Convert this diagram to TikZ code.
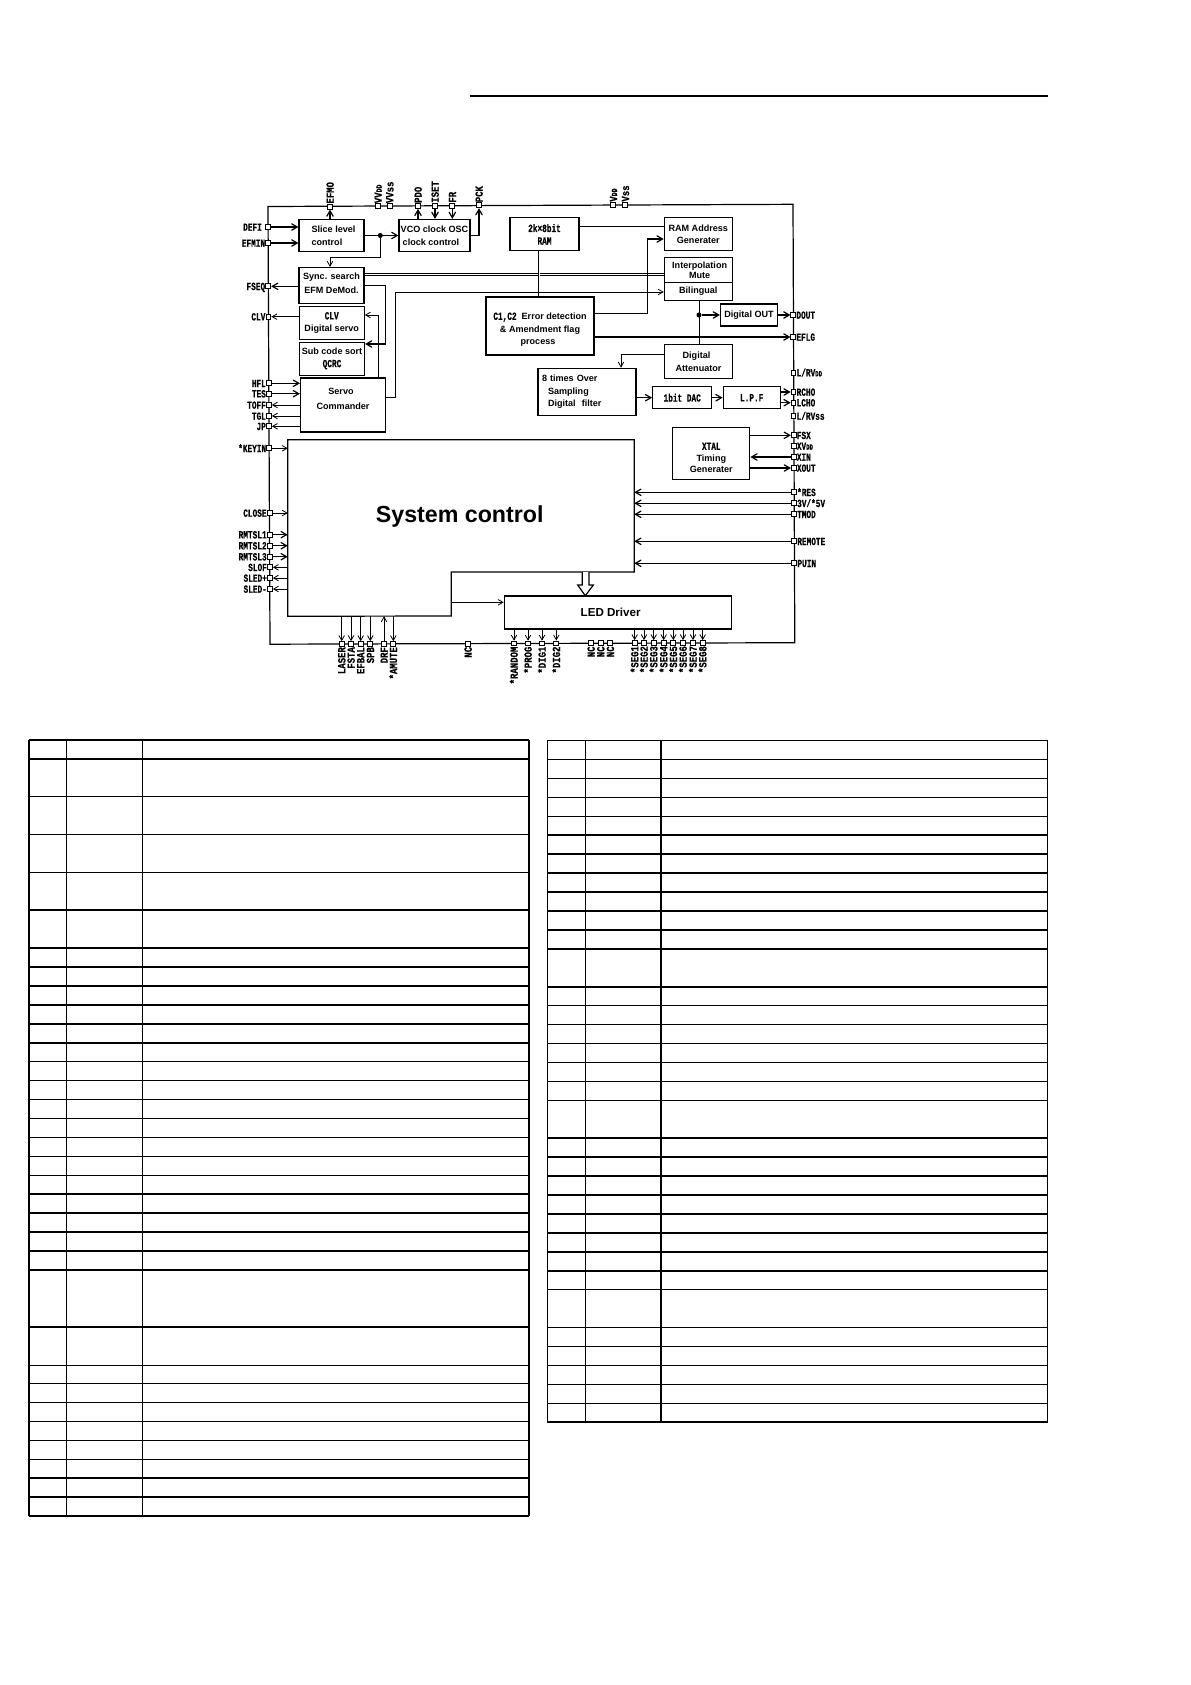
\documentclass[tikz,border=0pt]{standalone}
\usepackage{fontspec}
\setmainfont{Liberation Sans}
\newfontfamily\pinfont[FakeStretch=0.71,FakeBold=0.4]{Liberation Mono}
\newfontfamily\pinfontlong[FakeStretch=0.82,FakeBold=0.4]{Liberation Mono}
\usetikzlibrary{arrows}
\newcommand{\pinface}{\pinfont\bfseries\fontsize{8.2}{9.4}\selectfont}
\newcommand{\pinfacelong}{\pinfontlong\bfseries\fontsize{8.2}{9.4}\selectfont}
\newcommand{\subsize}[1]{{\fontsize{6}{7}\selectfont #1}}
\tikzset{
	blockbox/.style 2 args={draw,line width=0.9pt,inner sep=0pt,align=center,minimum width={#1*0.75pt},minimum height={#2*0.75pt},font=\bfseries\fontsize{6.8}{9.4}\selectfont},
	pinsq/.style={draw,fill=white,line width=0.7pt,inner sep=0pt,minimum size=3.6pt,label distance=2.5pt},
	pintext/.style={inner sep=0pt,text height=5.6pt,text depth=0pt,font=\pinface},
	pinleft/.style={pintext},
	pinright/.style={pintext},
	pintop/.style={pintext,font=\pinfacelong,rotate=90,anchor=west},
	pinbottom/.style={pintext,font=\pinfacelong,rotate=90,anchor=east},
	junction/.style={circle,fill,inner sep=0pt,minimum size=3.8pt},
	sig/.style={line width=0.9pt,->,>=angle 60},
	sigthin/.style={line width=0.6pt,->,>=angle 60},
	plain/.style={line width=0.9pt},
	dbl/.style={double,double distance=0.5pt,line width=0.7pt},
	rowthin/.style={line width=0.75pt},
	rowthick/.style={line width=1.5pt}
}
\begin{document}
\begin{tikzpicture}[x=0.75pt,y=-0.75pt]
	\useasboundingbox (0,0) rectangle (1191,1685);
	\draw [line width=1.5pt] (469.6,95.6) -- (1047.6,95.6);

	\coordinate (busnw) at (268,206.5);
	\coordinate (busne) at (793,204.3);
	\coordinate (busse) at (794.8,642.7);
	\coordinate (bussw) at (270,644.2);
	\draw [plain] (busnw) -- (busne) -- (busse) -- (bussw) -- cycle;

	\node [blockbox={65}{32},align=left] (slice) at (331.5,235.5) {\hspace*{3pt}Slice level\\\hspace*{3pt}control};
	\node [blockbox={71}{32},align=left] (vco) at (434.5,235.5) {VCO clock OSC\\\hspace*{1.5pt}clock control};
	\node [blockbox={69}{33}] (ram) at (544.5,234.3) {{\pinface 2k×8bit}\\{\pinface RAM}};
	\node [blockbox={68}{33}] (ramaddr) at (698.3,234.3) {RAM Address\\Generater};
	\node [blockbox={68}{25}] (interp) at (698.3,270) {\hspace*{2pt}Interpolation\\[-1.6pt]\hspace*{2pt}Mute};
	\node [blockbox={68}{18}] (bilingual) at (698.3,291.3) {Bilingual};
	\node [blockbox={65}{36}] (sync) at (331.5,285.5) {Sync. search\\[1.3pt]EFM DeMod.\\[-6pt]\mbox{}};
	\node [blockbox={65}{33}] (clv) at (331.7,323) {{\pinface CLV}\\Digital servo};
	\node [blockbox={65}{33}] (subcode) at (332,358.7) {Sub code sort\\{\pinface QCRC}};
	\node [blockbox={85}{54}] (servo) at (343,405) {Servo\hspace*{3pt}\\[2.4pt]Commander\hspace*{3pt}\\\mbox{}};
	\node [blockbox={108}{58}] (ecc) at (540,326) {\mbox{}\\[1.6pt]{\pinface C1,C2}\ \ Error detection\hspace*{3pt}\\\& Amendment flag\hspace*{6pt}\\process\hspace*{3pt}};
	\node [blockbox={98}{47},text width=67.5pt,align=left] (oversamp) at (587,391.7) {8 times Over\\\hspace*{4.5pt}Sampling\\\hspace*{4.5pt}Digital\ \ filter};
	\node [blockbox={57}{22}] (digout) at (749,315) {Digital OUT};
	\node [blockbox={68}{34}] (atten) at (698.5,361.8) {Digital\hspace*{3pt}\\[1pt]Attenuator};
	\node [blockbox={59}{22}] (dac) at (682.2,397.7) {{\pinface 1bit DAC}};
	\node [blockbox={57}{22}] (lpf) at (751.7,397.7) {{\pinface L.P.F}};
	\node [blockbox={77}{52}] (xtal) at (711.3,453.3) {\mbox{}\\[2.8pt]{\pinface XTAL}\hspace*{8pt}\\[-0.8pt]Timing\\[-0.8pt]Generater};
	\node [blockbox={227.4}{33}] (led) at (618,612.5) {\fontsize{8.7}{10}\selectfont LED Driver\hspace*{11pt}};
	\node [minimum width=259.5pt,minimum height=132pt,inner sep=0pt] (sysbox) at (461,528) {};
	\node [inner sep=0pt,font=\bfseries\fontsize{17.4}{20}\selectfont] (systext) at (459.7,516) {System control};
	\draw [plain] (sysbox.north west) -- (sysbox.north east) -- (sysbox.east |- 0,572) -- (451.3,572) -- (451.3,616) -- (sysbox.south west) -- cycle;

	\node [pinsq,label={[pinleft]left:DEFI\hspace*{2.5pt}}] (defi) at (268.3,227) {};
	\node [pinsq,label={[pinleft]left:EFMIN}] (efmin) at (268.3,243) {};
	\node [pinsq,label={[pinleft]left:FSEQ}] (fseq) at (268.3,286.3) {};
	\node [pinsq,label={[pinleft]left:CLV}] (clvpin) at (268.5,316.7) {};
	\node [pinsq,label={[pinleft]left:HFL}] (hfl) at (269,383.3) {};
	\node [pinsq,label={[pinleft]left:TES}] (tes) at (269,393.7) {};
	\node [pinsq,label={[pinleft]left:TOFF}] (toff) at (269,405) {};
	\node [pinsq,label={[pinleft]left:TGL}] (tgl) at (269,416) {};
	\node [pinsq,label={[pinleft]left:JP}] (jp) at (269,426.3) {};
	\node [pinsq,label={[pinleft]left:*KEYIN}] (keyin) at (269.3,448.3) {};
	\node [pinsq,label={[pinleft]left:CLOSE}] (closepin) at (269.7,513) {};
	\node [pinsq,label={[pinleft]left:RMTSL1}] (rmtsla) at (269.8,534.7) {};
	\node [pinsq,label={[pinleft]left:RMTSL2}] (rmtslb) at (269.8,545.7) {};
	\node [pinsq,label={[pinleft]left:RMTSL3}] (rmtslc) at (269.8,556.7) {};
	\node [pinsq,label={[pinleft]left:SLOF}] (slof) at (270,567.3) {};
	\node [pinsq,label={[pinleft]left:SLED+}] (sledp) at (270,578) {};
	\node [pinsq,label={[pinleft]left:SLED-}] (sledm) at (270,589) {};

	\node [pinsq,label={[pintop]above:EFMO}] (efmo) at (330,206.7) {};
	\node [pinsq,label={[pintop]above:VV\subsize{DD}}] (vvdd) at (378,206.3) {};
	\node [pinsq,label={[pintop]above:VVss}] (vvss) at (389.7,206.2) {};
	\node [pinsq,label={[pintop]above:PDO}] (pdo) at (418,206) {};
	\node [pinsq,label={[pintop]above:ISET}] (iset) at (435,205.8) {};
	\node [pinsq,label={[pintop]above:FR}] (frpin) at (452.3,205.7) {};
	\node [pinsq,label={[pintop]above:PCK}] (pck) at (479,205.3) {};
	\node [pinsq,label={[pintop]above:V\subsize{DD}}] (vdd) at (613.3,204.8) {};
	\node [pinsq,label={[pintop]above:Vss}] (vss) at (625.3,204.7) {};

	\node [pinsq,label={[pinright]right:DOUT}] (dout) at (793.3,315) {};
	\node [pinsq,label={[pinright]right:EFLG}] (eflg) at (793.3,337) {};
	\node [pinsq,label={[pinright]right:L/RV\subsize{DD}}] (lrvdd) at (793.5,372.7) {};
	\node [pinsq,label={[pinright]right:RCHO}] (rcho) at (793.5,392) {};
	\node [pinsq,label={[pinright]right:LCHO}] (lcho) at (793.5,402.7) {};
	\node [pinsq,label={[pinright]right:L/RVss}] (lrvss) at (793.5,416) {};
	\node [pinsq,label={[pinright]right:FSX}] (fsx) at (793.7,435.3) {};
	\node [pinsq,label={[pinright]right:XV\subsize{DD}}] (xvdd) at (793.7,446) {};
	\node [pinsq,label={[pinright]right:XIN}] (xin) at (793.7,457) {};
	\node [pinsq,label={[pinright]right:XOUT}] (xout) at (793.8,468) {};
	\node [pinsq,label={[pinright]right:*RES}] (respin) at (794,492.3) {};
	\node [pinsq,label={[pinright]right:3V/*5V}] (volt) at (794,503.3) {};
	\node [pinsq,label={[pinright]right:TMOD}] (tmod) at (794,514.3) {};
	\node [pinsq,label={[pinright]right:REMOTE}] (remote) at (794.2,541.3) {};
	\node [pinsq,label={[pinright]right:PUIN}] (puin) at (794.3,563.3) {};

	\node [pinsq,label={[pinbottom]below:LASER}] (laser) at (341.7,644) {};
	\node [pinsq,label={[pinbottom]below:FSTA}] (fsta) at (351,644) {};
	\node [pinsq,label={[pinbottom]below:EFBAL}] (efbal) at (360.7,644) {};
	\node [pinsq,label={[pinbottom]below:SPB}] (spb) at (370.3,644) {};
	\node [pinsq,label={[pinbottom]below:DRF}] (drf) at (384,644) {};
	\node [pinsq,label={[pinbottom]below:*AMUTE}] (amute) at (393.3,644) {};
	\node [pinsq,label={[pinbottom]below:NC}] (nca) at (468,643.7) {};
	\node [pinsq,label={[pinbottom]below:*RANDOM}] (randompin) at (514,643.5) {};
	\node [pinsq,label={[pinbottom]below:*PROG}] (prog) at (528,643.5) {};
	\node [pinsq,label={[pinbottom]below:*DIG1}] (diga) at (542,643.5) {};
	\node [pinsq,label={[pinbottom]below:*DIG2}] (digb) at (556.3,643.4) {};
	\node [pinsq,label={[pinbottom]below:NC}] (ncb) at (591,643.3) {};
	\node [pinsq,label={[pinbottom]below:NC}] (ncc) at (600.7,643.3) {};
	\node [pinsq,label={[pinbottom]below:NC}] (ncd) at (610.3,643.2) {};
	\node [pinsq,label={[pinbottom]below:*SEG1}] (sega) at (634.7,643) {};
	\node [pinsq,label={[pinbottom]below:*SEG2}] (segb) at (644,643) {};
	\node [pinsq,label={[pinbottom]below:*SEG3}] (segc) at (653.7,643) {};
	\node [pinsq,label={[pinbottom]below:*SEG4}] (segd) at (663.7,643) {};
	\node [pinsq,label={[pinbottom]below:*SEG5}] (sege) at (673.3,643) {};
	\node [pinsq,label={[pinbottom]below:*SEG6}] (segf) at (683,643) {};
	\node [pinsq,label={[pinbottom]below:*SEG7}] (segg) at (693,643) {};
	\node [pinsq,label={[pinbottom]below:*SEG8}] (segh) at (702.7,643) {};

	\node [junction] (slicedot) at (380.3,235.5) {};
	\node [junction] (bildot) at (699,315) {};
	\coordinate (syncin) at (330,257.3);
	\coordinate (syncturn) at (385.7,344);
	\coordinate (servoup) at (378.3,315);
	\coordinate (servoright) at (395,292);
	\coordinate (eccup) at (647.7,239);
	\coordinate (attdown) at (621,354.3);
	\coordinate (sysnotch) at (451.3,602.3);

	\draw [sig] (defi) -- (defi -| slice.west);
	\draw [sig] (efmin) -- (efmin -| slice.west);
	\draw [sig] (sync.west |- fseq) -- (fseq);
	\draw [sigthin] (clv.west |- clvpin) -- (clvpin);
	\draw [sig] (hfl) -- (hfl -| servo.west);
	\draw [sig] (tes) -- (tes -| servo.west);
	\draw [sigthin] (servo.west |- toff) -- (toff);
	\draw [sigthin] (servo.west |- tgl) -- (tgl);
	\draw [sigthin] (servo.west |- jp) -- (jp);
	\draw [sigthin] (keyin) -- (keyin -| sysbox.west);
	\draw [sigthin] (closepin) -- (closepin -| sysbox.west);
	\draw [sig] (rmtsla) -- (rmtsla -| sysbox.west);
	\draw [sig] (rmtslb) -- (rmtslb -| sysbox.west);
	\draw [sig] (rmtslc) -- (rmtslc -| sysbox.west);
	\draw [sigthin] (sysbox.west |- slof) -- (slof);
	\draw [sigthin] (sysbox.west |- sledp) -- (sledp);
	\draw [sigthin] (sysbox.west |- sledm) -- (sledm);

	\draw [sig] (efmo |- slice.north) -- (efmo);
	\draw [sig] (pdo |- vco.north) -- (pdo);
	\draw [sig] (iset) -- (iset |- vco.north);
	\draw [sig] (frpin) -- (frpin |- vco.north);
	\draw [sig] (vco.east) -| (pck);
	\draw [sig] (slice.east) -- (vco.west);
	\draw [sigthin] (slicedot) -- (slicedot |- syncin) -- (syncin) -- (syncin |- sync.north);

	\draw [dbl] ([yshift=5.6pt]ram.east) -- ([yshift=5.6pt]ram.east -| ramaddr.west);
	\draw [dbl] ([yshift=8.4pt]sync.east) -- ([yshift=8.4pt]sync.east -| interp.west);
	\draw [dbl] ([xshift=-4.1pt]ram.south) -- ([xshift=-4.1pt]ram.south |- ecc.north);
	\draw [sig] (sync.east) -| (syncturn) -- (syncturn -| subcode.east);
	\draw [sigthin] (servoup |- servo.north) -- (servoup) -- (servoup -| clv.east);
	\draw [sigthin] ([yshift=5.8pt]servo.east) -| (servoright) -- (servoright -| bilingual.west);
	\draw [sig] ([yshift=9.5pt]ecc.east) -| (eccup) -- (eccup -| ramaddr.west);
	\draw [sig] (ecc.east |- eflg) -- (eflg);

	\draw [line width=0.6pt] (bilingual.south -| bildot) -- (atten.north -| bildot);
	\draw [sig] (bildot) -- (digout.west);
	\draw [sig] (digout.east) -- (dout);
	\draw [sigthin] (atten.west |- attdown) -- (attdown) -- (attdown |- oversamp.north);
	\draw [sig] (oversamp.east |- dac.west) -- (dac.west);
	\draw [sig] (dac.east) -- (lpf.west);
	\draw [sig] (lpf.east |- rcho) -- (rcho);
	\draw [sig] (lpf.east |- lcho) -- (lcho);
	\draw [sig] (xtal.east |- fsx) -- (fsx);
	\draw [sig] (xin) -- (xin -| xtal.east);
	\draw [sig] (xtal.east |- xout) -- (xout);

	\draw [sig] (respin) -- (respin -| sysbox.east);
	\draw [sig] (volt) -- (volt -| sysbox.east);
	\draw [sig] (tmod) -- (tmod -| sysbox.east);
	\draw [sig] (remote) -- (remote -| sysbox.east);
	\draw [sig] (puin) -- (puin -| sysbox.east);

	\draw [sigthin] (laser |- sysbox.south) -- (laser);
	\draw [sigthin] (fsta |- sysbox.south) -- (fsta);
	\draw [sigthin] (efbal |- sysbox.south) -- (efbal);
	\draw [sigthin] (spb |- sysbox.south) -- (spb);
	\draw [sigthin] (drf) -- (drf |- sysbox.south);
	\draw [sigthin] (amute |- sysbox.south) -- (amute);
	\draw [sigthin] (sysnotch) -- (sysnotch -| led.west);
	\draw [plain,fill=white] (582.3,572) -- (582.3,585) -- (577.7,585) -- (585.3,595.7) -- (593.3,585) -- (589,585) -- (589,572);

	\draw [sigthin] (randompin |- led.south) -- (randompin);
	\draw [sigthin] (prog |- led.south) -- (prog);
	\draw [sigthin] (diga |- led.south) -- (diga);
	\draw [sigthin] (digb |- led.south) -- (digb);
	\draw [sigthin] (sega |- led.south) -- (sega);
	\draw [sigthin] (segb |- led.south) -- (segb);
	\draw [sigthin] (segc |- led.south) -- (segc);
	\draw [sigthin] (segd |- led.south) -- (segd);
	\draw [sigthin] (sege |- led.south) -- (sege);
	\draw [sigthin] (segf |- led.south) -- (segf);
	\draw [sigthin] (segg |- led.south) -- (segg);
	\draw [sigthin] (segh |- led.south) -- (segh);

	\foreach \x in {66.4,142.5} \draw [rowthin] (\x,740) -- (\x,1516);
	\foreach \x in {28.6,528.6} \draw [rowthick] (\x,740) -- (\x,1516);
	\foreach \y in {796.3,834.3,872.3,1061.7,1080.7,1099.7,1118.7,1137.3,1156.3,1175.3,1365,1383.3,1402.3,1421.3,1440.3,1459.3} \draw [rowthin] (28.6,\y) -- (528.6,\y);
	\foreach \y in {740,759,910,948,967,986,1005,1024,1043,1194,1213,1232,1251,1270,1327,1478,1497,1516} \draw [rowthick] (28.6,\y) -- (528.6,\y);

	\foreach \x in {547,585.7,1047.7} \draw [rowthin] (\x,740) -- (\x,1422);
	\draw [rowthick] (661,740) -- (661,1422);
	\foreach \y in {740,759,778,797,816,1005.3,1024,1043,1062,1081,1100,1289.3,1327.3,1346.3,1365.3,1384.3,1403.3} \draw [rowthin] (547,\y) -- (1047.7,\y);
	\foreach \y in {835,854,873,892,911,930,949,987,1138,1157,1176,1195,1214,1233,1252,1271,1422} \draw [rowthick] (547,\y) -- (1047.7,\y);
\end{tikzpicture}
\end{document}
